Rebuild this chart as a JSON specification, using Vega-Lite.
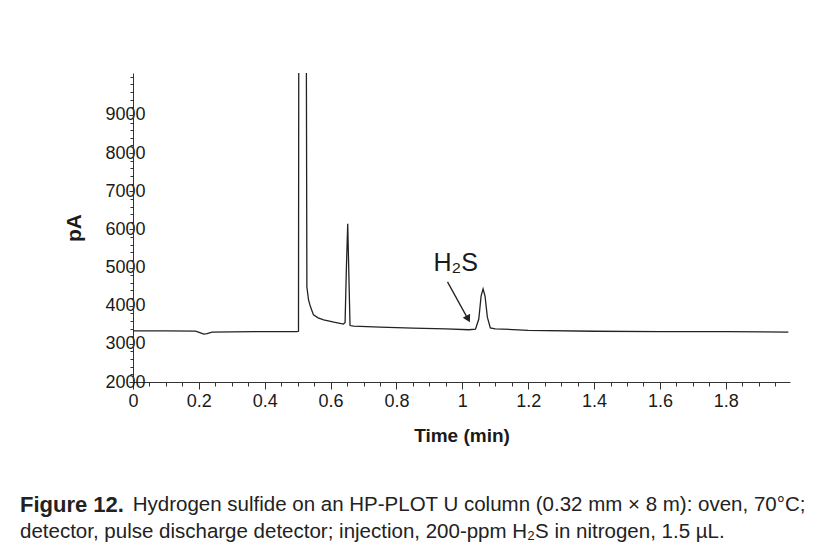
{
  "$schema": "https://vega.github.io/schema/vega-lite/v6.json",
  "width": 657,
  "height": 309,
  "autosize": "none",
  "padding": {"left": 133, "top": 73, "right": 42, "bottom": 177},
  "background": "white",
  "config": {
    "view": {"stroke": null},
    "axis": {"labelFont": "Liberation Sans", "titleFont": "Liberation Sans", "labelColor": "#1a1a1a", "titleColor": "#1a1a1a", "domainColor": "#333", "tickColor": "#333", "grid": false}
  },
  "title": {
    "text": "Figure 12.",
    "subtitle": ["\u200B\u2003\u2003\u2003\u2003\u2003\u2002Hydrogen sulfide on an HP-PLOT U column (0.32 mm × 8 m): oven, 70°C;", "detector, pulse discharge detector; injection, 200-ppm H₂S in nitrogen, 1.5 µL."],
    "orient": "bottom",
    "anchor": "start",
    "frame": "group",
    "align": "left",
    "dx": -113,
    "offset": 50,
    "font": "Liberation Sans",
    "fontSize": 22,
    "fontWeight": "bold",
    "color": "#222",
    "subtitleFont": "Liberation Sans",
    "subtitleFontSize": 20.5,
    "subtitleColor": "#222",
    "subtitleLineHeight": 27,
    "subtitlePadding": -22
  },
  "resolve": {"axis": {"x": "independent", "y": "independent"}},
  "layer": [
    {
      "data": {"values": [
        {"t": 0, "v": 3340}, {"t": 0.1, "v": 3340}, {"t": 0.19, "v": 3335}, {"t": 0.205, "v": 3290}, {"t": 0.215, "v": 3255},
        {"t": 0.225, "v": 3270}, {"t": 0.24, "v": 3310}, {"t": 0.3, "v": 3315}, {"t": 0.4, "v": 3320}, {"t": 0.497, "v": 3320},
        {"t": 0.5025, "v": 3330}, {"t": 0.5035, "v": 12000}, {"t": 0.526, "v": 12000}, {"t": 0.528, "v": 4490},
        {"t": 0.533, "v": 4150}, {"t": 0.539, "v": 3970}, {"t": 0.548, "v": 3760}, {"t": 0.562, "v": 3680}, {"t": 0.579, "v": 3630},
        {"t": 0.61, "v": 3570}, {"t": 0.639, "v": 3520}, {"t": 0.644, "v": 3560}, {"t": 0.648, "v": 5000}, {"t": 0.652, "v": 6150},
        {"t": 0.655, "v": 5000}, {"t": 0.659, "v": 3480}, {"t": 0.67, "v": 3465}, {"t": 0.75, "v": 3440}, {"t": 0.85, "v": 3410},
        {"t": 0.95, "v": 3390}, {"t": 1.02, "v": 3370}, {"t": 1.04, "v": 3385}, {"t": 1.05, "v": 3650}, {"t": 1.057, "v": 4250},
        {"t": 1.063, "v": 4440}, {"t": 1.069, "v": 4250}, {"t": 1.076, "v": 3700}, {"t": 1.085, "v": 3420}, {"t": 1.1, "v": 3395},
        {"t": 1.2, "v": 3355}, {"t": 1.4, "v": 3330}, {"t": 1.6, "v": 3320}, {"t": 1.8, "v": 3318}, {"t": 1.99, "v": 3310}
      ]},
      "mark": {"type": "line", "color": "#222", "strokeWidth": 1.3, "clip": true, "interpolate": "linear"},
      "encoding": {
        "x": {"field": "t", "type": "quantitative", "scale": {"domain": [0, 1.995], "nice": false, "zero": false},
          "axis": {"orient": "bottom", "title": "Time (min)", "values": [0, 0.2, 0.4, 0.6, 0.8, 1, 1.2, 1.4, 1.6, 1.8], "format": "~g", "tickSize": 7, "labelFontSize": 18, "labelPadding": 3, "titleFontSize": 19, "titleFontWeight": "bold", "titlePadding": 16, "labelFlush": false}},
        "y": {"field": "v", "type": "quantitative", "scale": {"domain": [2000, 10100], "nice": false, "zero": false},
          "axis": {"title": "pA", "values": [2000, 3000, 4000, 5000, 6000, 7000, 8000, 9000], "format": "d", "tickSize": 4, "labelFontSize": 18, "labelPadding": -16, "titleFontSize": 21, "titleFontWeight": "bold", "titlePadding": 20}}
      }
    },
    {
      "data": {"values": [{"t1": 0.955, "v1": 4625, "t2": 1.014, "v2": 3700}]},
      "mark": {"type": "rule", "color": "#222", "strokeWidth": 1.3},
      "encoding": {
        "x": {"field": "t1", "type": "quantitative",
          "axis": {"orient": "bottom", "title": null, "labels": false, "domain": false, "tickSize": 4,
            "values": [0.05, 0.1, 0.15, 0.25, 0.3, 0.35, 0.45, 0.5, 0.55, 0.65, 0.7, 0.75, 0.85, 0.9, 0.95, 1.05, 1.1, 1.15, 1.25, 1.3, 1.35, 1.45, 1.5, 1.55, 1.65, 1.7, 1.75, 1.85, 1.9, 1.95]}},
        "x2": {"field": "t2"},
        "y": {"field": "v1", "type": "quantitative",
          "axis": {"orient": "left", "title": null, "labels": false, "domain": false, "tickSize": 3,
            "values": [2200, 2400, 2600, 2800, 3200, 3400, 3600, 3800, 4200, 4400, 4600, 4800, 5200, 5400, 5600, 5800, 6200, 6400, 6600, 6800, 7200, 7400, 7600, 7800, 8200, 8400, 8600, 8800, 9200, 9400, 9600, 9800, 10000]}},
        "y2": {"field": "v2"}
      }
    },
    {
      "data": {"values": [{"t": 1.016, "v": 3680}]},
      "mark": {"type": "point", "shape": "triangle", "angle": 151, "size": 70, "filled": true, "color": "#222", "opacity": 1},
      "encoding": {
        "x": {"field": "t", "type": "quantitative", "axis": null},
        "y": {"field": "v", "type": "quantitative", "axis": null}
      }
    },
    {
      "data": {"values": [{"t": 0.98, "v": 5120, "label": "H₂S"}]},
      "mark": {"type": "text", "font": "Liberation Sans", "fontSize": 25, "color": "#1a1a1a", "align": "center", "baseline": "middle"},
      "encoding": {
        "x": {"field": "t", "type": "quantitative", "axis": null},
        "y": {"field": "v", "type": "quantitative", "axis": null},
        "text": {"field": "label"}
      }
    }
  ]
}
